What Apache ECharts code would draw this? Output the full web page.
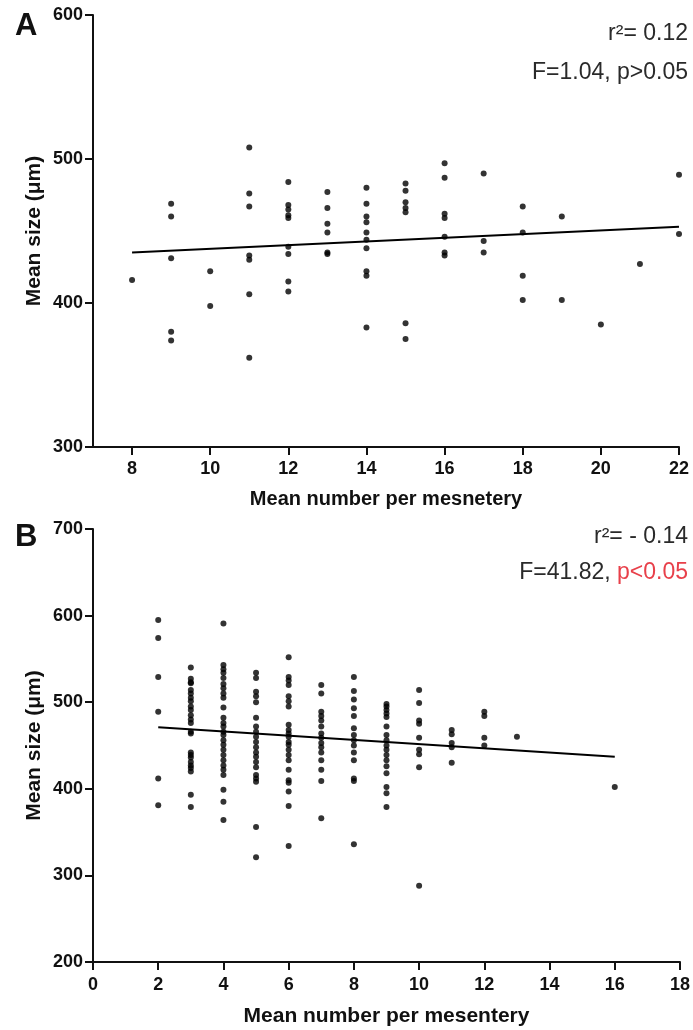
<!DOCTYPE html>
<html>
<head>
<meta charset="utf-8">
<script src="https://cdn.jsdelivr.net/npm/echarts@6/dist/echarts.min.js"></script>
<style>
html,body{margin:0;padding:0;background:#fff;}
#chart{width:693px;height:1030px;}
</style>
</head>
<body>
<div id="chart"></div>
<script>
// Panel A: mean number per mesentery (x) and mean size in µm (y)
const countsA = [8, 9, 10, 11, 12, 13, 14, 15, 16, 17, 18, 19, 20, 21, 22];
const sizesA = [
  [416],
  [469, 460, 431, 380, 374],
  [422, 398],
  [508, 476, 467, 433, 430, 406, 362],
  [484, 468, 465, 461, 459, 439, 434, 415, 408],
  [477, 466, 455, 449, 435, 434],
  [480, 469, 460, 456, 449, 444, 438, 422, 419, 383],
  [483, 478, 470, 466, 463, 386, 375],
  [497, 487, 462, 459, 446, 435, 433],
  [490, 443, 435],
  [467, 449, 419, 402],
  [460, 402],
  [385],
  [427],
  [489, 448]
];
const fitA = [[8, 435], [22, 453]];
const xTicksA = [8, 10, 12, 14, 16, 18, 20, 22];

// Panel B
const countsB = [2, 3, 4, 5, 6, 7, 8, 9, 10, 11, 12, 13, 16];
const sizesB = [
  [595, 574, 529, 489, 412, 381],
  [540, 527, 523, 522, 514, 510, 505, 501, 495, 491, 485, 480, 476, 466, 464, 442, 439, 436, 431, 427, 424, 420, 393, 379],
  [591, 543, 538, 534, 528, 521, 516, 510, 505, 494, 482, 476, 472, 466, 462, 456, 451, 445, 439, 433, 427, 422, 416, 399, 385, 364],
  [534, 528, 512, 507, 500, 482, 472, 466, 460, 454, 448, 442, 437, 431, 425, 416, 412, 408, 356, 321],
  [552, 529, 525, 520, 507, 501, 495, 474, 468, 464, 460, 454, 451, 445, 439, 433, 422, 410, 407, 397, 380, 334],
  [520, 510, 489, 484, 479, 472, 464, 459, 453, 448, 442, 433, 422, 409, 366],
  [529, 513, 503, 493, 484, 470, 462, 456, 450, 442, 433, 412, 409, 336],
  [498, 495, 491, 487, 483, 472, 462, 456, 450, 445, 439, 433, 426, 418, 402, 395, 379],
  [514, 499, 479, 475, 459, 445, 440, 425, 288],
  [468, 463, 453, 448, 430],
  [489, 484, 459, 450],
  [460],
  [402]
];
const fitB = [[2, 471], [16, 437]];

const toPoints = (xs, ys) => xs.flatMap((x, i) => ys[i].map(v => [x, v]));

const FONT = '"Liberation Sans", Arial, sans-serif';
const axisLine = { show: true, onZero: false, lineStyle: { color: '#111', width: 2 } };
const axisTick = { show: true, length: 8, lineStyle: { color: '#111', width: 2 } };
const axisLabel = { color: '#111', fontFamily: FONT, fontWeight: 'bold', fontSize: 18 };
const nameStyle = { color: '#111', fontFamily: FONT, fontWeight: 'bold', fontSize: 20 };
const yNameStyle = Object.assign({}, nameStyle, { fontSize: 21 });
const noteStyle = { fontSize: 23, fontWeight: 'normal', color: '#2a2a2a', fontFamily: FONT };

const chart = echarts.init(document.getElementById('chart'), null, { renderer: 'canvas' });
chart.setOption({
  backgroundColor: '#fff',
  animation: false,
  title: [
    { text: 'A', left: 15, top: 11, padding: 0, textStyle: { fontSize: 31, fontWeight: 'bold', color: '#111', fontFamily: FONT } },
    { text: 'B', left: 15, top: 522, padding: 0, textStyle: { fontSize: 31, fontWeight: 'bold', color: '#111', fontFamily: FONT } },
    { text: 'r²= 0.12', right: 5, top: 22, padding: 0, textStyle: noteStyle },
    { text: 'F=1.04, p>0.05', right: 5, top: 61, padding: 0, textStyle: noteStyle },
    { text: 'r²= - 0.14', right: 5, top: 525, padding: 0, textStyle: noteStyle },
    { text: '{k|F=41.82, }{r|p<0.05}', right: 5, top: 561, padding: 0,
      textStyle: { rich: {
        k: noteStyle,
        r: Object.assign({}, noteStyle, { color: '#e8404a' }) } } }
  ],
  grid: [
    { left: 93, top: 15, width: 586, height: 432 },
    { left: 93, top: 529, width: 587, height: 433 }
  ],
  xAxis: [
    { gridIndex: 0, type: 'value', min: 7, max: 22, splitLine: { show: false },
      axisLine, axisTick: Object.assign({}, axisTick, { customValues: xTicksA }),
      axisLabel: Object.assign({}, axisLabel, { customValues: xTicksA, margin: 13 }),
      name: 'Mean number per mesnetery', nameLocation: 'middle', nameGap: 42, nameTextStyle: nameStyle },
    { gridIndex: 1, type: 'value', min: 0, max: 18, interval: 2, splitLine: { show: false },
      axisLine, axisTick, axisLabel: Object.assign({}, axisLabel, { margin: 14 }),
      name: 'Mean number per mesentery', nameLocation: 'middle', nameGap: 44,
      nameTextStyle: Object.assign({}, nameStyle, { fontSize: 21 }) }
  ],
  yAxis: [
    { gridIndex: 0, type: 'value', min: 300, max: 600, interval: 100, splitLine: { show: false },
      axisLine, axisTick, axisLabel: Object.assign({}, axisLabel, { margin: 10 }),
      name: 'Mean size (μm)', nameLocation: 'middle', nameGap: 48, nameMoveOverlap: false, nameTextStyle: yNameStyle },
    { gridIndex: 1, type: 'value', min: 200, max: 700, interval: 100, splitLine: { show: false },
      axisLine, axisTick, axisLabel: Object.assign({}, axisLabel, { margin: 10 }),
      name: 'Mean size (μm)', nameLocation: 'middle', nameGap: 48, nameMoveOverlap: false, nameTextStyle: yNameStyle }
  ],
  series: [
    { type: 'scatter', xAxisIndex: 0, yAxisIndex: 0, data: toPoints(countsA, sizesA),
      symbol: 'circle', symbolSize: 6, itemStyle: { color: '#000' } },
    { type: 'line', xAxisIndex: 0, yAxisIndex: 0, data: fitA, symbol: 'none',
      lineStyle: { color: '#000', width: 2 } },
    { type: 'scatter', xAxisIndex: 1, yAxisIndex: 1, data: toPoints(countsB, sizesB),
      symbol: 'circle', symbolSize: 6, itemStyle: { color: '#000' } },
    { type: 'line', xAxisIndex: 1, yAxisIndex: 1, data: fitB, symbol: 'none',
      lineStyle: { color: '#000', width: 2 } }
  ]
});
</script>
</body>
</html>
